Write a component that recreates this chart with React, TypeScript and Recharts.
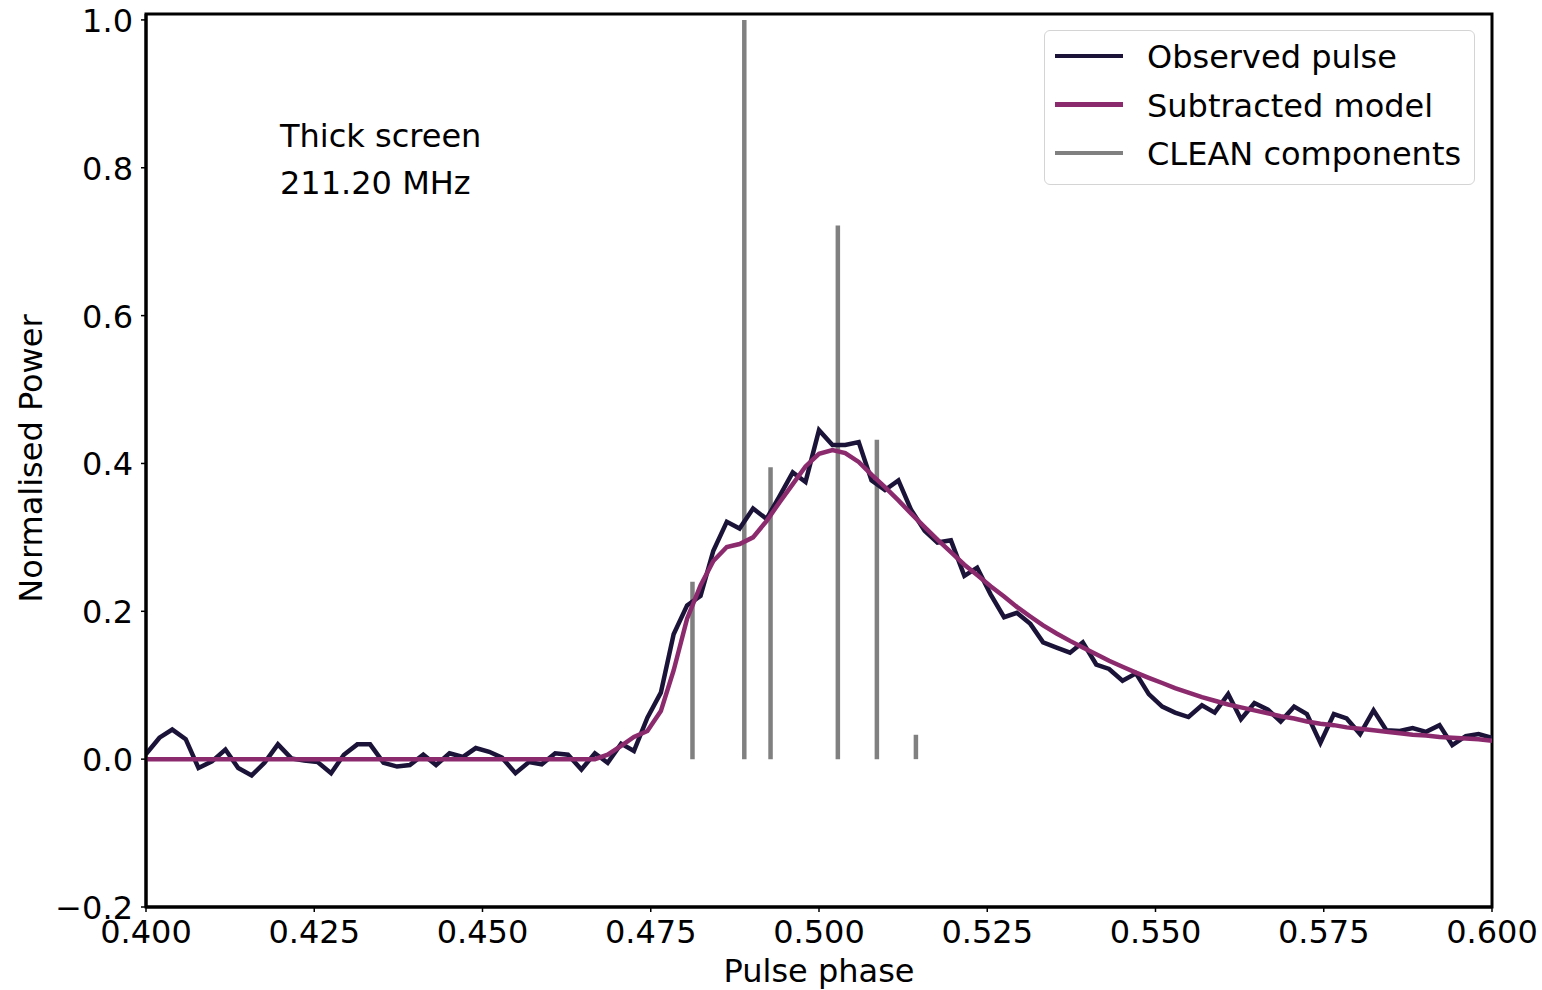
import React from 'react';
import {
  ComposedChart,
  Line,
  XAxis,
  YAxis,
  ReferenceLine,
  ReferenceArea,
} from 'recharts';

// Pulse phase grid (bin centres)
const phase = [
  0.4000, 0.4020, 0.4039, 0.4059, 0.4078, 0.4098, 0.4118, 0.4137, 0.4157, 0.4176,
  0.4196, 0.4216, 0.4235, 0.4255, 0.4275, 0.4294, 0.4314, 0.4333, 0.4353, 0.4373,
  0.4392, 0.4412, 0.4431, 0.4451, 0.4471, 0.4490, 0.4510, 0.4529, 0.4549, 0.4569,
  0.4588, 0.4608, 0.4627, 0.4647, 0.4667, 0.4686, 0.4706, 0.4725, 0.4745, 0.4765,
  0.4784, 0.4804, 0.4824, 0.4843, 0.4863, 0.4882, 0.4902, 0.4922, 0.4941, 0.4961,
  0.4980, 0.5000, 0.5020, 0.5039, 0.5059, 0.5078, 0.5098, 0.5118, 0.5137, 0.5157,
  0.5176, 0.5196, 0.5216, 0.5235, 0.5255, 0.5275, 0.5294, 0.5314, 0.5333, 0.5353,
  0.5373, 0.5392, 0.5412, 0.5431, 0.5451, 0.5471, 0.5490, 0.5510, 0.5529, 0.5549,
  0.5569, 0.5588, 0.5608, 0.5627, 0.5647, 0.5667, 0.5686, 0.5706, 0.5725, 0.5745,
  0.5765, 0.5784, 0.5804, 0.5824, 0.5843, 0.5863, 0.5882, 0.5902, 0.5922, 0.5941,
  0.5961, 0.5980, 0.6000,
];

// Observed pulse profile
const observed = [
  0.007, 0.029, 0.040, 0.027, -0.012, -0.003, 0.013, -0.012, -0.022, -0.005,
  0.020, 0.001, -0.002, -0.004, -0.019, 0.006, 0.020, 0.020, -0.005, -0.010,
  -0.008, 0.006, -0.008, 0.008, 0.003, 0.015, 0.010, 0.002, -0.019, -0.004,
  -0.007, 0.008, 0.006, -0.014, 0.008, -0.005, 0.021, 0.011, 0.056, 0.090,
  0.169, 0.208, 0.221, 0.282, 0.321, 0.312, 0.339, 0.325, 0.355, 0.388,
  0.375, 0.445, 0.425, 0.425, 0.429, 0.377, 0.364, 0.377, 0.337, 0.309,
  0.293, 0.296, 0.248, 0.259, 0.223, 0.192, 0.198, 0.183, 0.158, 0.151,
  0.144, 0.158, 0.128, 0.122, 0.106, 0.116, 0.088, 0.071, 0.063, 0.057,
  0.073, 0.063, 0.088, 0.054, 0.076, 0.067, 0.051, 0.071, 0.061, 0.022,
  0.061, 0.055, 0.034, 0.066, 0.039, 0.038, 0.042, 0.037, 0.046, 0.019,
  0.031, 0.034, 0.029,
];

// Subtracted model
const model = [
  0, 0, 0, 0, 0, 0, 0, 0, 0, 0,
  0, 0, 0, 0, 0, 0, 0, 0, 0, 0,
  0, 0, 0, 0, 0, 0, 0, 0, 0, 0,
  0, 0, 0, 0, 0.0, 0.006, 0.018, 0.030, 0.038, 0.065,
  0.120, 0.190, 0.235, 0.268, 0.287, 0.291, 0.300, 0.322, 0.347, 0.372,
  0.396, 0.413, 0.418, 0.414, 0.402, 0.385, 0.368, 0.350, 0.332, 0.314,
  0.297, 0.280, 0.263, 0.249, 0.234, 0.220, 0.206, 0.193, 0.181, 0.170,
  0.160, 0.151, 0.142, 0.133, 0.125, 0.117, 0.110, 0.103, 0.096, 0.090,
  0.084, 0.079, 0.074, 0.070, 0.066, 0.062, 0.058, 0.055, 0.051, 0.048,
  0.046, 0.043, 0.041, 0.039, 0.037, 0.035, 0.033, 0.032, 0.030, 0.029,
  0.028, 0.027, 0.025,
];

// CLEAN components
const cleanPhase = [0.4812, 0.4889, 0.4928, 0.5028, 0.5086, 0.5144];
const cleanAmp = [0.24, 1.0, 0.395, 0.722, 0.432, 0.033];

const xTicks = [0.4, 0.425, 0.45, 0.475, 0.5, 0.525, 0.55, 0.575, 0.6];
const yTicks = [-0.2, 0, 0.2, 0.4, 0.6, 0.8, 1.0];

const seriesNames = ['Observed pulse', 'Subtracted model', 'CLEAN components'];
const annotation = ['Thick screen', '211.20 MHz'];

const COL_OBS = '#1c1339';
const COL_MODEL = '#8c2a6e';
const COL_CLEAN = '#808080';
const FONT = "'DejaVu Sans', sans-serif";
const FS = 32;

const data = phase.map((p, i) => ({ phase: p, observed: observed[i], model: model[i] }));

const fmtY = (v: number) => (v < 0 ? '\u2212' + Math.abs(v).toFixed(1) : v.toFixed(1));

const YTick = (props: any) => {
  const { x, y, payload } = props;
  return (
    <text x={x} y={y + 12} textAnchor="end" fontSize={FS} fill="#000" fontFamily={FONT}>
      {fmtY(payload.value)}
    </text>
  );
};

const YLabel = (props: any) => {
  const vb = props.viewBox || { x: 0, y: 14, width: 146, height: 893 };
  const cy = vb.y + vb.height / 2 - 2;
  return (
    <text
      transform={`translate(42, ${cy}) rotate(-90)`}
      textAnchor="middle"
      fontSize={FS}
      fill="#000"
      fontFamily={FONT}
    >
      Normalised Power
    </text>
  );
};

const legendColors = [COL_OBS, COL_MODEL, COL_CLEAN];

export default function App() {
  return (
    <div style={{ position: 'absolute', left: 0, top: 0, width: 1542, height: 990, background: '#fff', fontFamily: FONT }}>
      <ComposedChart width={1542} height={990} data={data} margin={{ top: 14, right: 50, bottom: 0, left: 0 }}>
        <XAxis
          dataKey="phase"
          type="number"
          domain={[0.4, 0.6]}
          ticks={xTicks}
          interval={0}
          allowDataOverflow
          height={83}
          tickSize={5}
          tickMargin={8}
          tick={{ fontSize: FS, fill: '#000', fontFamily: FONT }}
          tickFormatter={(v: number) => v.toFixed(3)}
          axisLine={{ stroke: '#000', strokeWidth: 3 }}
          tickLine={{ stroke: '#000', strokeWidth: 1.5 }}
          label={{ value: 'Pulse phase', position: 'insideBottom', offset: 8, fontSize: FS, fill: '#000', fontFamily: FONT }}
        />
        <YAxis
          type="number"
          domain={[-0.2, 1.008]}
          ticks={yTicks}
          interval={0}
          allowDataOverflow
          width={146}
          tickSize={5}
          tickMargin={8}
          tick={<YTick />}
          axisLine={{ stroke: '#000', strokeWidth: 3 }}
          tickLine={{ stroke: '#000', strokeWidth: 1.5 }}
          label={{ content: (p: any) => <YLabel {...p} /> }}
        />
        {cleanPhase.map((p, i) => (
          <ReferenceLine
            key={'c' + i}
            segment={[{ x: p, y: 0 }, { x: p, y: cleanAmp[i] }]}
            stroke={COL_CLEAN}
            strokeWidth={4.5}
            ifOverflow="visible"
          />
        ))}
        <Line
          type="linear"
          dataKey="observed"
          stroke={COL_OBS}
          strokeWidth={4.5}
          dot={false}
          activeDot={false}
          isAnimationActive={false}
        />
        <Line
          type="linear"
          dataKey="model"
          stroke={COL_MODEL}
          strokeWidth={4.5}
          dot={false}
          activeDot={false}
          isAnimationActive={false}
        />
        <ReferenceArea
          x1={0.4}
          x2={0.6}
          y1={-0.2}
          y2={1.008}
          fill="none"
          fillOpacity={0}
          stroke="#000"
          strokeWidth={3}
          ifOverflow="visible"
        />
      </ComposedChart>

      {/* annotation */}
      <div style={{ position: 'absolute', left: 280, top: 113, fontSize: FS, lineHeight: '47px', color: '#000', whiteSpace: 'nowrap' }}>
        {annotation.map((t) => (
          <div key={t}>{t}</div>
        ))}
      </div>

      {/* legend */}
      <div
        style={{
          position: 'absolute',
          left: 1044,
          top: 30,
          width: 431,
          height: 155,
          border: '1.5px solid #d4d4d4',
          borderRadius: 6,
          background: 'rgba(255,255,255,0.8)',
          boxSizing: 'border-box',
        }}
      />
      {seriesNames.map((name, k) => (
        <div
          key={name}
          style={{
            position: 'absolute',
            left: 1055,
            top: 56 + k * 48.5 - 24,
            height: 48,
            display: 'flex',
            alignItems: 'center',
            whiteSpace: 'nowrap',
          }}
        >
          <div style={{ width: 68, height: 4.5, background: legendColors[k] }} />
          <div style={{ marginLeft: 24, fontSize: FS, color: '#000', position: 'relative', top: 1 }}>{name}</div>
        </div>
      ))}
    </div>
  );
}
